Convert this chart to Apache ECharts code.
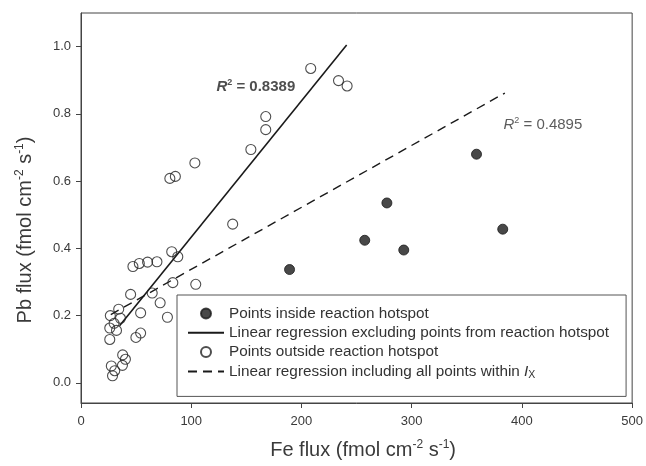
<!DOCTYPE html>
<html>
<head>
<meta charset="utf-8">
<script src="https://cdn.jsdelivr.net/npm/echarts@6/dist/echarts.min.js"></script>
<style>html,body{margin:0;padding:0;background:#fff;}#c{width:646px;height:466px;}</style>
</head>
<body>
<div id="c"></div>
<script>
// Points inside reaction hotspot
var insideFe = [189.2, 257.4, 277.5, 292.8, 358.8, 382.6];
var insidePb = [0.337, 0.424, 0.535, 0.395, 0.680, 0.457];
// Points outside reaction hotspot
var outsideFe = [208.4, 233.6, 241.4, 167.6, 167.6, 154.1, 103.3, 85.6, 80.6, 137.6,
                 82.3, 87.8, 68.9, 60.4, 52.9, 47.1, 83.3, 104.1, 45.0, 64.6,
                 71.8, 54.1, 78.4, 34.2, 26.6, 35.8, 30.0, 26.1, 32.2, 26.1,
                 49.8, 54.1, 37.8, 40.3, 37.6, 27.5, 30.6, 28.6];
var outsidePb = [0.935, 0.899, 0.883, 0.792, 0.753, 0.694, 0.654, 0.614, 0.608, 0.472,
                 0.390, 0.375, 0.360, 0.359, 0.355, 0.346, 0.298, 0.293, 0.263, 0.267,
                 0.238, 0.208, 0.195, 0.219, 0.200, 0.192, 0.177, 0.163, 0.156, 0.129,
                 0.135, 0.148, 0.083, 0.070, 0.052, 0.050, 0.036, 0.021];
// Regression lines (end points)
var regExclFe = [35, 241];
var regExclPb = [0.17, 1.005];
var regAllFe = [27, 384.5];
var regAllPb = [0.203, 0.862];
// Annotations
var r2Excl = {fe: 158.6, pb: 0.881, text: '0.8389'};
var r2All = {fe: 419, pb: 0.766, text: '0.4895'};
// Tick labels
var xTicks = [0, 100, 200, 300, 400, 500];
var yTicks = [0, 0.2, 0.4, 0.6, 0.8, 1.0];

var names = ['Points inside reaction hotspot',
             'Linear regression excluding points from reaction hotspot',
             'Points outside reaction hotspot',
             'Linear regression including all points within Ix'];

function zip(a, b) { return a.map(function (v, i) { return [v, b[i]]; }); }

var txt = '#3a3a3a';
var font = 'Liberation Sans, Arial, sans-serif';
var hideSym = {color: 'rgba(0,0,0,0)', borderColor: 'rgba(0,0,0,0)', borderWidth: 0, opacity: 0};

var chart = echarts.init(document.getElementById('c'), null, {renderer: 'canvas'});
chart.setOption({
  animation: false,
  backgroundColor: '#fff',
  textStyle: {fontFamily: font},
  grid: {left: 81, right: 10, top: 13, bottom: 63, show: true, borderColor: '#444', borderWidth: 1, containLabel: false},
  xAxis: {
    type: 'value', min: 0, max: 500, interval: 100,
    axisLine: {onZero: false, lineStyle: {color: '#444', width: 1}},
    axisTick: {show: true, inside: false, length: 5, lineStyle: {color: '#444'}},
    axisLabel: {color: txt, fontSize: 13, margin: 12, fontFamily: font},
    splitLine: {show: false},
    name: '{n|Fe flux (fmol cm}{s|-2}{n| s}{s|-1}{n|)}',
    nameLocation: 'middle', nameGap: 36,
    nameTextStyle: {color: txt, padding: [0, 0, 0, 13], rich: {
      n: {fontSize: 20, color: txt, fontFamily: font, lineHeight: 22},
      s: {fontSize: 12, color: txt, fontFamily: font, verticalAlign: 'top', lineHeight: 22}
    }}
  },
  yAxis: {
    type: 'value', min: -0.06, max: 1.1,
    axisLine: {show: true, onZero: false, lineStyle: {color: '#444', width: 1}},
    axisTick: {show: true, inside: false, length: 5, customValues: yTicks, lineStyle: {color: '#444'}},
    axisLabel: {color: txt, fontSize: 13, margin: 10, fontFamily: font, customValues: yTicks,
      formatter: function (v) { return v.toFixed(1); }},
    splitLine: {show: false},
    name: '{n|Pb flux (fmol cm}{s|-2}{n| s}{s|-1}{n|)}',
    nameLocation: 'middle', nameGap: 45,
    nameTextStyle: {color: txt, padding: [0, 44, 0, 0], rich: {
      n: {fontSize: 20, color: txt, fontFamily: font, lineHeight: 22},
      s: {fontSize: 12, color: txt, fontFamily: font, verticalAlign: 'top', lineHeight: 22}
    }}
  },
  legend: {
    data: [
      {name: names[0]},
      {name: names[1], itemStyle: hideSym},
      {name: names[2]},
      {name: names[3], itemStyle: hideSym}
    ],
    orient: 'vertical',
    left: 177, top: 295,
    itemWidth: 36, itemHeight: 10, itemGap: 4.3,
    padding: [11, 17, 16, 10],
    borderColor: '#555', borderWidth: 1,
    backgroundColor: '#fff',
    selectedMode: false,
    textStyle: {color: '#333', fontSize: 15.3, fontFamily: font,
      rich: {
        a: {fontSize: 15.3, color: '#333', fontFamily: font, lineHeight: 18},
        i: {fontSize: 15.3, color: '#333', fontFamily: font, fontStyle: 'italic', lineHeight: 18},
        x: {fontSize: 10.5, color: '#333', fontFamily: font, verticalAlign: 'bottom', lineHeight: 18}
      }},
    formatter: function (n) {
      if (n === names[3]) return '{a|Linear regression including all points within }{i|I}{x|X}';
      return '{a|' + n + '}';
    }
  },
  series: [
    {
      name: names[0], type: 'scatter', z: 5,
      data: zip(insideFe, insidePb), symbol: 'circle', symbolSize: 10,
      itemStyle: {color: '#1a1a1a', borderColor: '#1a1a1a', borderWidth: 1}
    },
    {
      name: names[1], type: 'line', z: 3,
      data: zip(regExclFe, regExclPb), symbol: 'none',
      lineStyle: {color: '#1a1a1a', width: 1.6, type: 'solid'}
    },
    {
      name: names[2], type: 'scatter', z: 5,
      data: zip(outsideFe, outsidePb), symbol: 'circle', symbolSize: 10,
      itemStyle: {color: 'rgba(255,255,255,0)', borderColor: '#222', borderWidth: 1.1}
    },
    {
      name: names[3], type: 'line', z: 3,
      data: zip(regAllFe, regAllPb), symbol: 'none',
      lineStyle: {color: '#1a1a1a', width: 1.4, type: [9, 6]}
    },
    {
      name: 'r2', type: 'scatter', symbolSize: 0, silent: true, z: 6,
      data: [
        {value: [r2Excl.fe, r2Excl.pb], label: {show: true, position: 'inside',
          formatter: '{r|R}{s|2}{t| = ' + r2Excl.text + '}',
          rich: {
            r: {fontSize: 15, fontWeight: 'bold', fontStyle: 'italic', color: '#222', fontFamily: font, lineHeight: 18},
            s: {fontSize: 9, fontWeight: 'bold', color: '#222', fontFamily: font, verticalAlign: 'top', lineHeight: 18},
            t: {fontSize: 15, fontWeight: 'bold', color: '#222', fontFamily: font, lineHeight: 18}
          }}},
        {value: [r2All.fe, r2All.pb], label: {show: true, position: 'inside',
          formatter: '{r|R}{s|2}{t| = ' + r2All.text + '}',
          rich: {
            r: {fontSize: 15, fontStyle: 'italic', color: '#333', fontFamily: font, lineHeight: 18},
            s: {fontSize: 9, color: '#333', fontFamily: font, verticalAlign: 'top', lineHeight: 18},
            t: {fontSize: 15, color: '#333', fontFamily: font, lineHeight: 18}
          }}}
      ]
    }
  ]
});
</script>
</body>
</html>
